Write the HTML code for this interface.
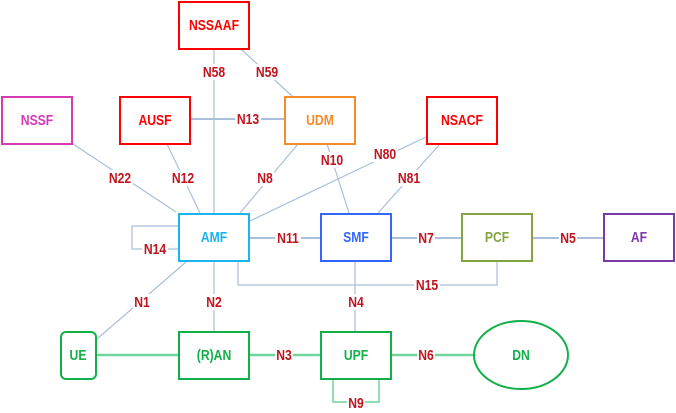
<!DOCTYPE html>
<html><head><meta charset="utf-8"><style>
html,body{margin:0;padding:0;background:#fff;}
svg{display:block;}
text{font-family:"Liberation Sans",Arial,sans-serif;font-weight:bold;font-size:14.5px;text-anchor:middle;dominant-baseline:central;}
.l{fill:#c0141e;}
</style></head><body>
<svg width="676" height="413" viewBox="0 0 676 413" xmlns="http://www.w3.org/2000/svg">
<g stroke="#a9bfdc" stroke-width="1.2" fill="none">
<line x1="214" y1="50" x2="214" y2="213"/>
<line x1="242" y1="50" x2="292" y2="96"/>
<line x1="190" y1="119" x2="285" y2="119" stroke-width="2"/>
<line x1="73" y1="144" x2="176" y2="212"/>
<line x1="167" y1="144" x2="200" y2="213"/>
<line x1="298" y1="144" x2="240" y2="213"/>
<line x1="327" y1="144" x2="349" y2="213"/>
<line x1="426" y1="137" x2="250" y2="221"/>
<line x1="440" y1="144" x2="378" y2="213"/>
<polyline points="178,226 132,226 132,249 178,249"/>
<line x1="250" y1="238" x2="320" y2="238" stroke-width="2"/>
<line x1="392" y1="238" x2="461" y2="238" stroke-width="2"/>
<line x1="533" y1="238" x2="603" y2="238" stroke-width="2"/>
<polyline points="238,262 238,285 497,285 497,262"/>
<line x1="214" y1="262" x2="214" y2="331"/>
<line x1="355" y1="262" x2="355" y2="331"/>
<line x1="97" y1="339" x2="186" y2="262"/>
</g>
<g stroke="#72d49c" stroke-width="2.5" fill="none">
<line x1="97" y1="355" x2="178" y2="355"/>
<line x1="250" y1="355" x2="320" y2="355"/>
<line x1="392" y1="355" x2="474" y2="355"/>
<polyline points="333,380 333,402 379,402 379,380" stroke-width="1.5"/>
</g>
<g fill="#fff" stroke-width="2">
<rect x="179" y="2" width="70" height="47" stroke="#ff0000"/>
<rect x="2" y="97" width="70" height="47" stroke="#d63bb4"/>
<rect x="120" y="97" width="70" height="47" stroke="#ff0000"/>
<rect x="285" y="97" width="70" height="47" stroke="#f68b2c"/>
<rect x="427" y="97" width="70" height="47" stroke="#ff0000"/>
<rect x="179" y="214" width="70" height="47" stroke="#1ab4ee"/>
<rect x="321" y="214" width="70" height="47" stroke="#3366ff"/>
<rect x="462" y="214" width="70" height="47" stroke="#84a440"/>
<rect x="604" y="214" width="70" height="47" stroke="#7a3aa8"/>
<rect x="61" y="332" width="35" height="47" rx="5" stroke="#12b04a"/>
<rect x="179" y="332" width="70" height="47" stroke="#12b04a"/>
<rect x="321" y="332" width="70" height="47" stroke="#12b04a"/>
<ellipse cx="521" cy="355" rx="47" ry="34" stroke="#12b04a"/>
</g>
<g fill="#fff">
<rect x="201" y="64" width="26" height="16"/>
<rect x="254" y="64" width="26" height="16"/>
<rect x="235" y="111" width="26" height="16"/>
<rect x="107" y="170" width="26" height="16"/>
<rect x="170" y="170" width="26" height="16"/>
<rect x="256" y="170" width="18" height="16"/>
<rect x="319" y="152" width="26" height="16"/>
<rect x="372" y="146" width="26" height="16"/>
<rect x="396" y="170" width="26" height="16"/>
<rect x="142" y="241" width="26" height="16"/>
<rect x="275" y="230" width="26" height="16"/>
<rect x="417" y="230" width="18" height="16"/>
<rect x="559" y="230" width="18" height="16"/>
<rect x="414" y="277" width="26" height="16"/>
<rect x="133" y="294" width="18" height="16"/>
<rect x="205" y="294" width="18" height="16"/>
<rect x="347" y="294" width="18" height="16"/>
<rect x="275" y="347" width="18" height="16"/>
<rect x="417" y="347" width="18" height="16"/>
<rect x="347" y="395" width="18" height="16"/>
</g>
<g transform="translate(214,25) scale(0.84,1)"><text fill="#ff0000">NSSAAF</text></g>
<g transform="translate(37,120) scale(0.84,1)"><text fill="#d63bb4">NSSF</text></g>
<g transform="translate(155,120) scale(0.84,1)"><text fill="#ff0000">AUSF</text></g>
<g transform="translate(320,120) scale(0.84,1)"><text fill="#f68b2c">UDM</text></g>
<g transform="translate(462,120) scale(0.84,1)"><text fill="#ff0000">NSACF</text></g>
<g transform="translate(214,237) scale(0.84,1)"><text fill="#1ab4ee">AMF</text></g>
<g transform="translate(356,237) scale(0.84,1)"><text fill="#3366ff">SMF</text></g>
<g transform="translate(497,237) scale(0.84,1)"><text fill="#84a440">PCF</text></g>
<g transform="translate(639,237) scale(0.84,1)"><text fill="#7a3aa8">AF</text></g>
<g transform="translate(78,355) scale(0.84,1)"><text fill="#12b04a">UE</text></g>
<g transform="translate(214,355) scale(0.84,1)"><text fill="#12b04a">(R)AN</text></g>
<g transform="translate(356,355) scale(0.84,1)"><text fill="#12b04a">UPF</text></g>
<g transform="translate(521,355) scale(0.84,1)"><text fill="#12b04a">DN</text></g>
<g transform="translate(214,72) scale(0.84,1)"><text class="l">N58</text></g>
<g transform="translate(267,72) scale(0.84,1)"><text class="l">N59</text></g>
<g transform="translate(248,119) scale(0.84,1)"><text class="l">N13</text></g>
<g transform="translate(120,178) scale(0.84,1)"><text class="l">N22</text></g>
<g transform="translate(183,178) scale(0.84,1)"><text class="l">N12</text></g>
<g transform="translate(265,178) scale(0.84,1)"><text class="l">N8</text></g>
<g transform="translate(332,160) scale(0.84,1)"><text class="l">N10</text></g>
<g transform="translate(385,154) scale(0.84,1)"><text class="l">N80</text></g>
<g transform="translate(409,178) scale(0.84,1)"><text class="l">N81</text></g>
<g transform="translate(155,249) scale(0.84,1)"><text class="l">N14</text></g>
<g transform="translate(288,238) scale(0.84,1)"><text class="l">N11</text></g>
<g transform="translate(426,238) scale(0.84,1)"><text class="l">N7</text></g>
<g transform="translate(568,238) scale(0.84,1)"><text class="l">N5</text></g>
<g transform="translate(427,285) scale(0.84,1)"><text class="l">N15</text></g>
<g transform="translate(142,302) scale(0.84,1)"><text class="l">N1</text></g>
<g transform="translate(214,302) scale(0.84,1)"><text class="l">N2</text></g>
<g transform="translate(356,302) scale(0.84,1)"><text class="l">N4</text></g>
<g transform="translate(284,355) scale(0.84,1)"><text class="l">N3</text></g>
<g transform="translate(426,355) scale(0.84,1)"><text class="l">N6</text></g>
<g transform="translate(356,403) scale(0.84,1)"><text class="l">N9</text></g>
</svg>
</body></html>
